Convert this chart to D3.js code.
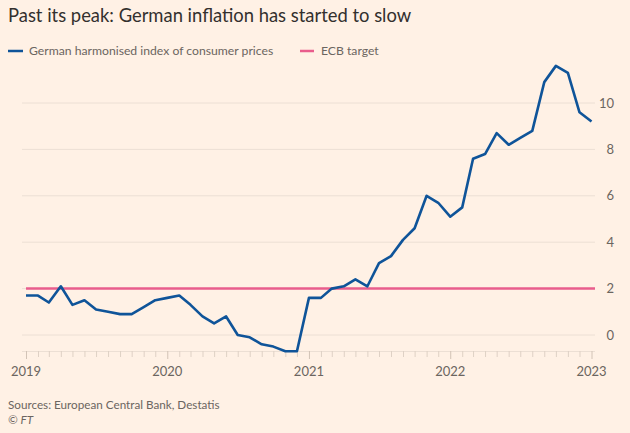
<!DOCTYPE html>
<html>
<head>
<meta charset="utf-8">
<script src="https://cdn.jsdelivr.net/npm/d3@7/dist/d3.min.js"></script>
<style>
html,body{margin:0;padding:0;background:#fff1e5;}
svg{display:block;}
text{font-family:Lato,"Open Sans",sans-serif;}
</style>
</head>
<body>
<svg id="chart" width="630" height="433"></svg>
<script>
const months = [
 "2019-01","2019-02","2019-03","2019-04","2019-05","2019-06","2019-07","2019-08","2019-09","2019-10","2019-11","2019-12",
 "2020-01","2020-02","2020-03","2020-04","2020-05","2020-06","2020-07","2020-08","2020-09","2020-10","2020-11","2020-12",
 "2021-01","2021-02","2021-03","2021-04","2021-05","2021-06","2021-07","2021-08","2021-09","2021-10","2021-11","2021-12",
 "2022-01","2022-02","2022-03","2022-04","2022-05","2022-06","2022-07","2022-08","2022-09","2022-10","2022-11","2022-12",
 "2023-01"];
const hicp = [
 1.7,1.7,1.4,2.1,1.3,1.5,1.1,1.0,0.9,0.9,1.2,1.5,
 1.6,1.7,1.3,0.8,0.5,0.8,0.0,-0.1,-0.4,-0.5,-0.7,-0.7,
 1.6,1.6,2.0,2.1,2.4,2.1,3.1,3.4,4.1,4.6,6.0,5.7,
 5.1,5.5,7.6,7.8,8.7,8.2,8.5,8.8,10.9,11.6,11.3,9.6,
 9.2];
const ecbTarget = 2;
const yTicks = [0,2,4,6,8,10];
const xTickYears = ["2019","2020","2021","2022","2023"];
const title = "Past its peak: German inflation has started to slow";
const legendLabels = ["German harmonised index of consumer prices","ECB target"];
const source = "Sources: European Central Bank, Destatis";

const parse = d3.timeParse("%Y-%m");
const data = months.map((m,i)=>({date:parse(m), v:hicp[i]}));

const svg = d3.select("#chart");
const blue = "#0f5499", pink = "#e95d8c", grid = "#ecdfd4", txt = "#6b6560";

const x = d3.scaleTime().domain([parse("2019-01"), parse("2023-01")]).range([26, 591.5]);
const y = d3.scaleLinear().domain([0,10]).range([335,103]);
const yBottom = y(-0.69);

// title
svg.append("text").attr("x",8).attr("y",22).attr("font-size",18.4).attr("fill","#33302e").text(title);

// legend
const lg = svg.append("g");
lg.append("line").attr("x1",8).attr("x2",23).attr("y1",51).attr("y2",51).attr("stroke",blue).attr("stroke-width",2.5);
lg.append("text").attr("x",29).attr("y",55).attr("font-size",12.2).attr("fill",txt).text(legendLabels[0]);
lg.append("line").attr("x1",300).attr("x2",314).attr("y1",51).attr("y2",51).attr("stroke",pink).attr("stroke-width",2.5);
lg.append("text").attr("x",321).attr("y",55).attr("font-size",12.2).attr("fill",txt).text(legendLabels[1]);

// gridlines
svg.append("g").selectAll("line").data(yTicks).join("line")
  .attr("x1",22).attr("x2",595).attr("y1",d=>y(d)).attr("y2",d=>y(d))
  .attr("stroke",grid).attr("stroke-width",1);

// y labels
svg.append("g").selectAll("text").data(yTicks).join("text")
  .attr("x",614).attr("y",d=>y(d)+4.5).attr("text-anchor","end")
  .attr("font-size",13).attr("fill",txt).text(d=>d);

// x axis
const xAxis = d3.axisBottom(x).ticks(d3.timeMonth.every(1)).tickSize(6).tickFormat("");
const gx = svg.append("g").attr("transform",`translate(0,${yBottom})`).call(xAxis);
gx.select(".domain").attr("stroke",grid).attr("d",`M22,0.5H595`);
gx.selectAll(".tick line").attr("stroke","#dfd1c5");
gx.selectAll(".tick").filter(d=>d.getMonth()===0).select("line").attr("y2",8).attr("stroke","#d2c3b6");

svg.append("g").selectAll("text").data(xTickYears).join("text")
  .attr("x",d=>x(parse(d+"-01"))).attr("y",376).attr("text-anchor","middle")
  .attr("font-size",13).attr("fill",txt).text(d=>d);

// ECB target
svg.append("line").attr("x1",x(parse("2019-01"))).attr("x2",595)
  .attr("y1",y(ecbTarget)).attr("y2",y(ecbTarget)).attr("stroke",pink).attr("stroke-width",2.5);

// HICP line
svg.append("path").datum(data)
  .attr("d",d3.line().x(d=>x(d.date)).y(d=>y(d.v)))
  .attr("fill","none").attr("stroke",blue).attr("stroke-width",2.6).attr("stroke-linejoin","round");

// footer
svg.append("text").attr("x",8).attr("y",409).attr("font-size",11.7).attr("fill",txt).text(source);
svg.append("text").attr("x",8).attr("y",424).attr("font-size",11.7).attr("font-style","italic").attr("fill",txt).text("© FT");
</script>
</body>
</html>
